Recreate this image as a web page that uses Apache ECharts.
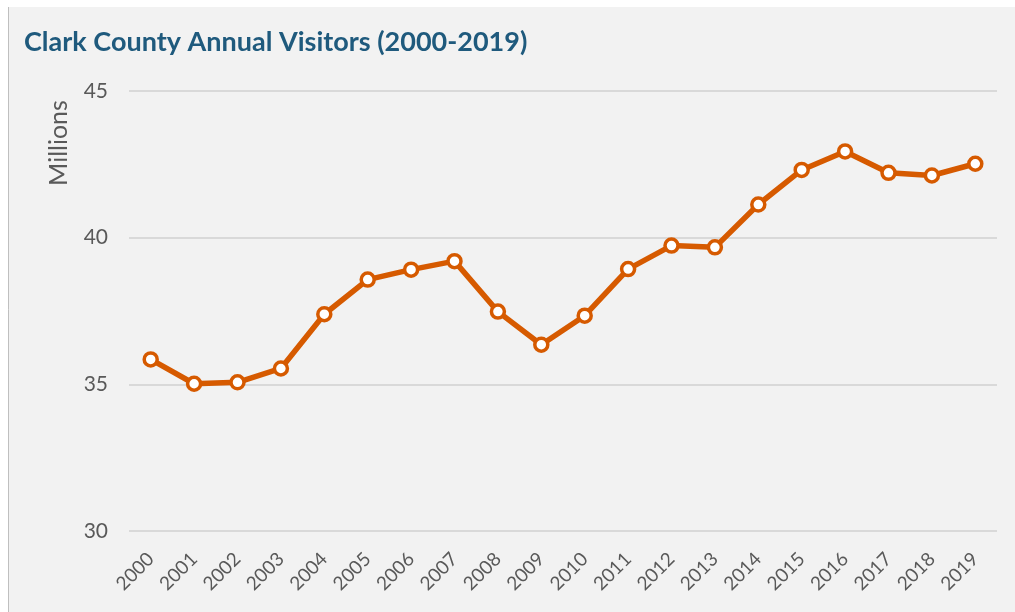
<!DOCTYPE html>
<html>
<head>
<meta charset="utf-8">
<script src="https://cdn.jsdelivr.net/npm/echarts@6/dist/echarts.min.js"></script>
<style>
  html, body { margin: 0; padding: 0; background: #ffffff; }
  #chart { width: 1015px; height: 612px; }
</style>
</head>
<body>
<div id="chart"></div>
<script>
// Clark County annual visitor volume, in millions
const years = ['2000','2001','2002','2003','2004','2005','2006','2007','2008','2009',
               '2010','2011','2012','2013','2014','2015','2016','2017','2018','2019'];
const visitors = [35.85, 35.02, 35.07, 35.54, 37.39, 38.57, 38.91, 39.20, 37.48, 36.35,
                  37.34, 38.93, 39.73, 39.67, 41.13, 42.31, 42.94, 42.21, 42.12, 42.52];
const yTicks = { min: 30, max: 45, step: 5 };

const textGray = '#595959';
const font = 'Lato, "Open Sans", sans-serif';

const chart = echarts.init(document.getElementById('chart'), null, { renderer: 'canvas' });
chart.setOption({
  backgroundColor: '#ffffff',
  animation: false,
  graphic: [
    { type: 'rect', z: -10, shape: { x: 8, y: 7, width: 1007, height: 605 },
      style: { fill: '#f2f2f2' } },
    { type: 'line', z: -9, shape: { x1: 8.5, y1: 7, x2: 8.5, y2: 612 },
      style: { stroke: '#bfbfbf', lineWidth: 1 } },
    { type: 'text', left: 24, top: 29,
      style: { text: 'Clark County Annual Visitors (2000-2019)', fill: '#1f5a7d',
               font: 'bold 27px ' + font } },
    { type: 'text', x: 59, y: 143, rotation: Math.PI / 2,
      style: { text: 'Millions', fill: textGray, font: '25px ' + font,
               align: 'center', verticalAlign: 'middle' } }
  ],
  grid: { left: 129, right: 18, top: 91, bottom: 81, containLabel: false },
  xAxis: {
    type: 'category',
    data: years,
    boundaryGap: true,
    axisLine: { show: false },
    axisTick: { show: false },
    axisLabel: { rotate: 45, color: textGray, fontSize: 19, fontFamily: font, margin: 25 }
  },
  yAxis: {
    type: 'value',
    min: yTicks.min, max: yTicks.max, interval: yTicks.step,
    axisLine: { show: false },
    axisTick: { show: false },
    axisLabel: { color: textGray, fontSize: 21, fontFamily: font, margin: 21 },
    splitLine: { lineStyle: { color: '#d9d9d9', width: 2 } }
  },
  series: [{
    type: 'line',
    data: visitors,
    symbol: 'circle',
    symbolSize: 13,
    lineStyle: { color: '#d65a00', width: 5.5 },
    itemStyle: { color: '#ffffff', borderColor: '#d65a00', borderWidth: 3.5 },
    z: 5
  }]
});
</script>
</body>
</html>
